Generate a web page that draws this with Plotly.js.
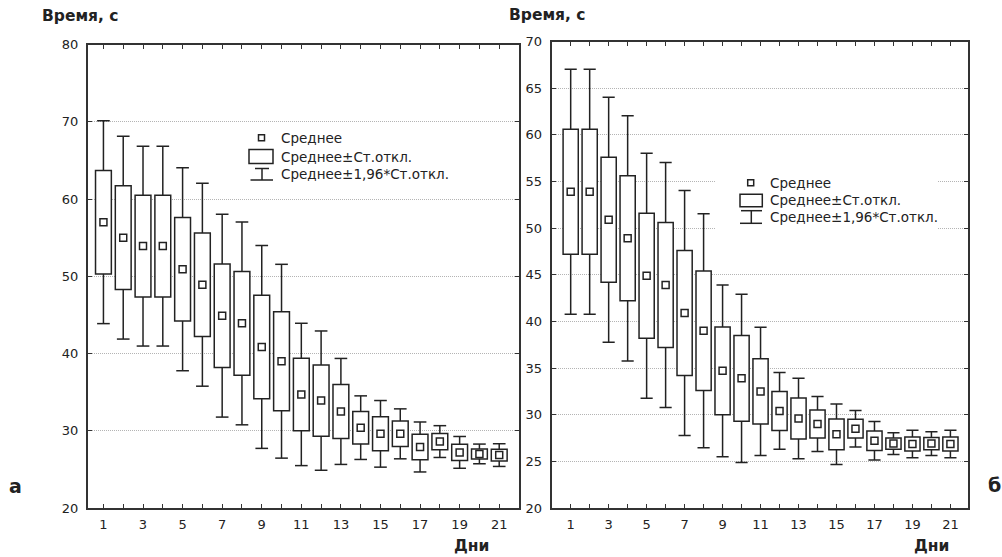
<!DOCTYPE html>
<html><head><meta charset="utf-8">
<script src="https://cdn.plot.ly/plotly-3.0.1.min.js"></script>
<style>html,body{margin:0;padding:0;background:#fff}#chart{width:1002px;height:557px}</style>
</head><body><div id="chart"></div>
<script>
// ---- data ----
const days = [1,2,3,4,5,6,7,8,9,10,11,12,13,14,15,16,17,18,19,20,21];
const xTickText = ['1','','3','','5','','7','','9','','11','','13','','15','','17','','19','','21'];
// panel а
const meanA = [57.0,55.0,53.9,53.9,50.9,48.9,44.9,43.9,40.85,39.0,34.7,33.9,32.5,30.4,29.6,29.6,27.9,28.6,27.2,27.0,26.85];
const sdA   = [6.7,6.7,6.6,6.6,6.7,6.7,6.7,6.7,6.7,6.4,4.7,4.6,3.5,2.1,2.2,1.65,1.65,1.05,1.05,0.65,0.75];
// panel б
const meanB = [53.9,53.9,50.9,48.9,44.9,43.9,40.9,39.0,34.7,33.9,32.5,30.4,29.6,29.0,27.9,28.5,27.2,26.9,26.85,26.9,26.85];
const sdB   = [6.7,6.7,6.7,6.7,6.7,6.7,6.7,6.4,4.7,4.6,3.5,2.1,2.2,1.5,1.65,1.0,1.05,0.6,0.75,0.65,0.75];
const legendLabels = ['Среднее','Среднее±Ст.откл.','Среднее±1,96*Ст.откл.'];
const yTitle = 'Время, с';
const xTitle = 'Дни';
const panelLabels = ['а','б'];
const K = 1.96;

// ---- helpers ----
const W = 1002, H = 557;
const PX = v => v / W, PY = v => 1 - v / H;
const INK = '#222';
const FONT = 'DejaVu Sans, Arial, sans-serif';

function panelTraces(mean, sd, xa, ya) {
  const cap = 0.32;
  const wx = [], wy = [];
  days.forEach((d, i) => {
    const bHi = mean[i] + sd[i], bLo = mean[i] - sd[i];
    const wHi = mean[i] + K * sd[i], wLo = mean[i] - K * sd[i];
    wx.push(d, d, null, d - cap, d + cap, null, d, d, null, d - cap, d + cap, null);
    wy.push(bHi, wHi, null, wHi, wHi, null, bLo, wLo, null, wLo, wLo, null);
  });
  return [
    {type: 'scatter', mode: 'lines', x: wx, y: wy, xaxis: xa, yaxis: ya,
     line: {color: INK, width: 1.5}, hoverinfo: 'skip', showlegend: false},
    {type: 'bar', x: days, base: mean.map((m, i) => m - sd[i]), y: sd.map(s => 2 * s),
     width: 0.8, xaxis: xa, yaxis: ya, showlegend: false, hoverinfo: 'skip',
     marker: {color: '#ffffff', line: {color: INK, width: 1.5}}},
    {type: 'scatter', mode: 'markers', x: days, y: mean, xaxis: xa, yaxis: ya, showlegend: false,
     marker: {symbol: 'square-open', size: 7, color: INK, line: {width: 1.5, color: INK}}}
  ];
}

function xAxis(domain, range) {
  return {domain, range, tickvals: days, ticktext: xTickText, ticks: 'inside', ticklen: 4,
    tickcolor: '#333', tickwidth: 1, showline: true, linecolor: '#333', linewidth: 2, mirror: 'ticks',
    showgrid: false, zeroline: false, tickfont: {family: FONT, size: 13, color: INK},
    ticklabelstandoff: 3, fixedrange: true};
}
function yAxis(domain, range, dtick) {
  return {domain, range, dtick, tick0: 20, ticks: 'inside', ticklen: 4, tickcolor: '#333',
    showline: true, linecolor: '#333', linewidth: 2, mirror: 'ticks',
    showgrid: true, gridcolor: '#b4b4b4', griddash: '1px,1px', gridwidth: 1, zeroline: false,
    tickfont: {family: FONT, size: 13, color: INK}, ticklabelstandoff: 5, fixedrange: true};
}

function legendParts(L) {
  const shapes = [], ann = [];
  if (L.bg) shapes.push({type: 'rect', xref: 'paper', yref: 'paper', layer: 'above',
    x0: PX(L.bg[0]), x1: PX(L.bg[1]), y0: PY(L.bg[2]), y1: PY(L.bg[3]),
    fillcolor: '#fff', line: {width: 0}});
  const ln = {color: INK, width: 1.5};
  const m = L.mean;
  shapes.push({type: 'rect', xref: 'paper', yref: 'paper', layer: 'above',
    x0: PX(m[0] - 3), x1: PX(m[0] + 3), y0: PY(m[1] - 3), y1: PY(m[1] + 3), line: ln, fillcolor: 'rgba(0,0,0,0)'});
  const b = L.box;
  shapes.push({type: 'rect', xref: 'paper', yref: 'paper', layer: 'above',
    x0: PX(b[0]), x1: PX(b[1]), y0: PY(b[2]), y1: PY(b[3]), line: ln, fillcolor: 'rgba(0,0,0,0)'});
  const w = L.whisk; // [topX0, topX1, topY, stemX, botX0, botX1, botY]
  const seg = (x0, y0, x1, y1) => shapes.push({type: 'line', xref: 'paper', yref: 'paper', layer: 'above',
    x0: PX(x0), y0: PY(y0), x1: PX(x1), y1: PY(y1), line: ln});
  seg(w[0], w[2], w[1], w[2]);
  seg(w[3], w[2], w[3], w[6]);
  seg(w[4], w[6], w[5], w[6]);
  legendLabels.forEach((t, i) => ann.push({xref: 'paper', yref: 'paper', x: PX(L.textX), y: PY(L.rows[i]),
    xanchor: 'left', yanchor: 'middle', showarrow: false, text: t,
    font: {family: FONT, size: 13.5, color: INK}}));
  return {shapes, ann};
}

const legA = legendParts({mean: [261.5, 137.7], box: [249, 273, 149.5, 163.5],
  whisk: [255, 269, 168.5, 262, 250.5, 273, 180], textX: 279, rows: [137.7, 156.7, 174]});
const legB = legendParts({bg: [716, 937, 170, 234], mean: [750.7, 182.7], box: [740, 762.3, 194.3, 206.7],
  whisk: [741, 762, 210.7, 751.3, 740, 762, 223.3], textX: 768, rows: [182.7, 200.3, 217.3]});

const titleFont = {family: FONT, size: 15.5, color: INK, weight: 700};
const annotations = [
  {xref: 'paper', yref: 'paper', x: PX(40), y: PY(16.5), xanchor: 'left', yanchor: 'middle', showarrow: false, text: yTitle, font: titleFont},
  {xref: 'paper', yref: 'paper', x: PX(507), y: PY(15), xanchor: 'left', yanchor: 'middle', showarrow: false, text: yTitle, font: titleFont},
  {xref: 'paper', yref: 'paper', x: PX(491), y: PY(546), xanchor: 'right', yanchor: 'middle', showarrow: false, text: xTitle, font: titleFont},
  {xref: 'paper', yref: 'paper', x: PX(951), y: PY(546), xanchor: 'right', yanchor: 'middle', showarrow: false, text: xTitle, font: titleFont},
  {xref: 'paper', yref: 'paper', x: PX(7), y: PY(486), xanchor: 'left', yanchor: 'middle', showarrow: false, text: panelLabels[0], font: {family: FONT, size: 19, color: INK, weight: 700}},
  {xref: 'paper', yref: 'paper', x: PX(986), y: PY(485), xanchor: 'left', yanchor: 'middle', showarrow: false, text: panelLabels[1], font: {family: FONT, size: 19, color: INK, weight: 700}}
].concat(legA.ann, legB.ann);

const data = [].concat(panelTraces(meanA, sdA, 'x', 'y'), panelTraces(meanB, sdB, 'x2', 'y2'));

const layout = {
  width: W, height: H, margin: {l: 0, r: 0, t: 0, b: 0},
  paper_bgcolor: '#fff', plot_bgcolor: '#fff', showlegend: false, barmode: 'overlay',
  xaxis: xAxis([PX(88), PX(519)], [0.22, 22.0]),
  yaxis: yAxis([PY(508), PY(44.5)], [20, 80], 10),
  xaxis2: Object.assign(xAxis([PX(551.7), PX(967.5)], [0, 21.9]), {anchor: 'y2'}),
  yaxis2: Object.assign(yAxis([PY(508), PY(41.5)], [20, 70], 5), {anchor: 'x2'}),
  shapes: legA.shapes.concat(legB.shapes),
  annotations
};
layout.xaxis.anchor = 'y';
layout.yaxis.anchor = 'x';

Plotly.newPlot('chart', data, layout, {displayModeBar: false, staticPlot: true});
</script>
</body></html>
